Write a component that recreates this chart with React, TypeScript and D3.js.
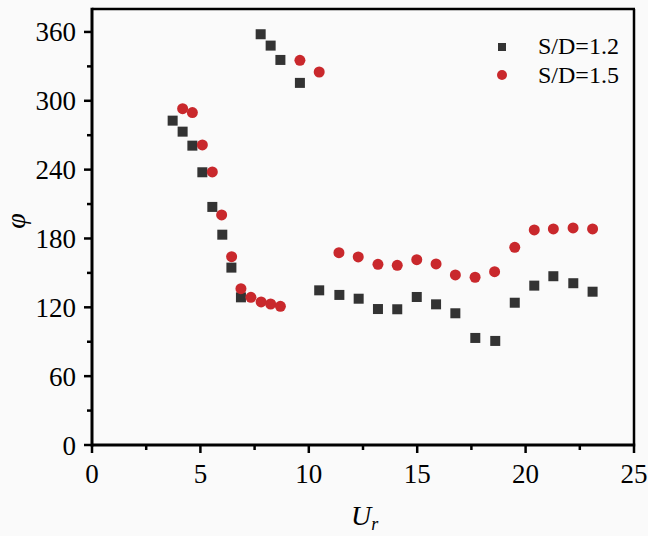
import React from "react";
import * as d3 from "d3";

const seriesNames = ["S/D=1.2", "S/D=1.5"];

const ur12 = [3.72, 4.18, 4.63, 5.09, 5.55, 6.01, 6.43, 6.87, 7.78, 8.24, 8.69, 9.59, 10.48, 11.41, 12.3, 13.19, 14.08, 14.98, 15.87, 16.76, 17.68, 18.6, 19.5, 20.4, 21.28, 22.2, 23.09];
const phi12 = [282.7, 273.1, 260.9, 237.7, 207.5, 183.3, 154.6, 128.7, 358, 348.1, 335.6, 315.6, 134.8, 130.8, 127.5, 118.5, 118.3, 129, 122.6, 114.8, 93.3, 90.7, 124, 138.9, 147.1, 141, 133.6];

const ur15 = [4.18, 4.63, 5.09, 5.55, 5.98, 6.44, 6.87, 7.33, 7.8, 8.24, 8.69, 9.59, 10.48, 11.39, 12.28, 13.19, 14.08, 14.98, 15.87, 16.76, 17.67, 18.57, 19.5, 20.4, 21.28, 22.19, 23.09];
const phi15 = [293.1, 289.7, 261.5, 238, 200.5, 164.1, 136.2, 128.7, 124.7, 122.9, 120.9, 335.3, 325.1, 167.6, 163.9, 157.5, 156.6, 161.5, 157.8, 148.2, 146.2, 151.1, 172.3, 187.4, 188.3, 189.2, 188.3];

const xTicks = [0, 5, 10, 15, 20, 25];
const xMinor = [2.5, 7.5, 12.5, 17.5, 22.5];
const yTicks = [0, 60, 120, 180, 240, 300, 360];
const yMinor = [30, 90, 150, 210, 270, 330];

const W = 648;
const H = 536;
const FONT = "'Liberation Serif', 'Times New Roman', serif";

export default function App() {
  const x = d3.scaleLinear().domain([0, 25]).range([92, 634]);
  const y = d3.scaleLinear().domain([0, 380]).range([445, 9]);
  const sq = 10;
  const r = 5.5;
  const colSq = "#333333";
  const colCi = "#c9282c";
  const [x0, x1] = x.range();
  const [y0, y1] = y.range();

  return (
    <svg
      width={W}
      height={H}
      style={{ position: "absolute", left: 0, top: 0, background: "#fafafa" }}
      fontFamily={FONT}
    >
      <rect x={0} y={0} width={W} height={H} fill="#fafafa" />
      {/* frame top & right */}
      <line x1={x0} x2={x1 + 1} y1={y1} y2={y1} stroke="#000" strokeWidth={2.5} />
      <line x1={x1} x2={x1} y1={y1} y2={y0} stroke="#000" strokeWidth={2.5} />
      {/* axes */}
      <line x1={x0} x2={x1 + 1.2} y1={y0} y2={y0} stroke="#000" strokeWidth={3} />
      <line x1={x0} x2={x0} y1={y1 - 1.2} y2={y0 + 1.5} stroke="#000" strokeWidth={3} />
      {xTicks.map((t) => (
        <g key={"xt" + t}>
          <line x1={x(t)} x2={x(t)} y1={y0} y2={y0 + 8} stroke="#000" strokeWidth={2.5} />
          <text x={x(t)} y={483} textAnchor="middle" fontSize={27}>
            {t}
          </text>
        </g>
      ))}
      {xMinor.map((t) => (
        <line key={"xm" + t} x1={x(t)} x2={x(t)} y1={y0} y2={y0 + 5} stroke="#000" strokeWidth={2.5} />
      ))}
      {yTicks.map((t) => (
        <g key={"yt" + t}>
          <line x1={x0 - 8} x2={x0} y1={y(t)} y2={y(t)} stroke="#000" strokeWidth={2.5} />
          <text x={76} y={y(t) + 9.5} textAnchor="end" fontSize={27}>
            {t}
          </text>
        </g>
      ))}
      {yMinor.map((t) => (
        <line key={"ym" + t} x1={x0 - 5} x2={x0} y1={y(t)} y2={y(t)} stroke="#000" strokeWidth={2.5} />
      ))}
      {/* data */}
      {ur12.map((u, i) => (
        <rect key={"s" + i} x={x(u) - sq / 2} y={y(phi12[i]) - sq / 2} width={sq} height={sq} fill={colSq} />
      ))}
      {ur15.map((u, i) => (
        <circle key={"c" + i} cx={x(u)} cy={y(phi15[i])} r={r} fill={colCi} />
      ))}
      {/* legend */}
      <rect x={498} y={43} width={8} height={8} fill={colSq} />
      <text x={538} y={54} fontSize={24}>
        {seriesNames[0]}
      </text>
      <circle cx={502} cy={75} r={5} fill={colCi} />
      <text x={538} y={83} fontSize={24}>
        {seriesNames[1]}
      </text>
      {/* axis titles */}
      <text
        transform="translate(25,221) rotate(-90)"
        textAnchor="middle"
        fontSize={28}
        fontStyle="italic"
      >
        φ
      </text>
      <text x={351} y={525} fontSize={28} fontStyle="italic">
        U
        <tspan fontSize={18} dy={5}>
          r
        </tspan>
      </text>
    </svg>
  );
}
